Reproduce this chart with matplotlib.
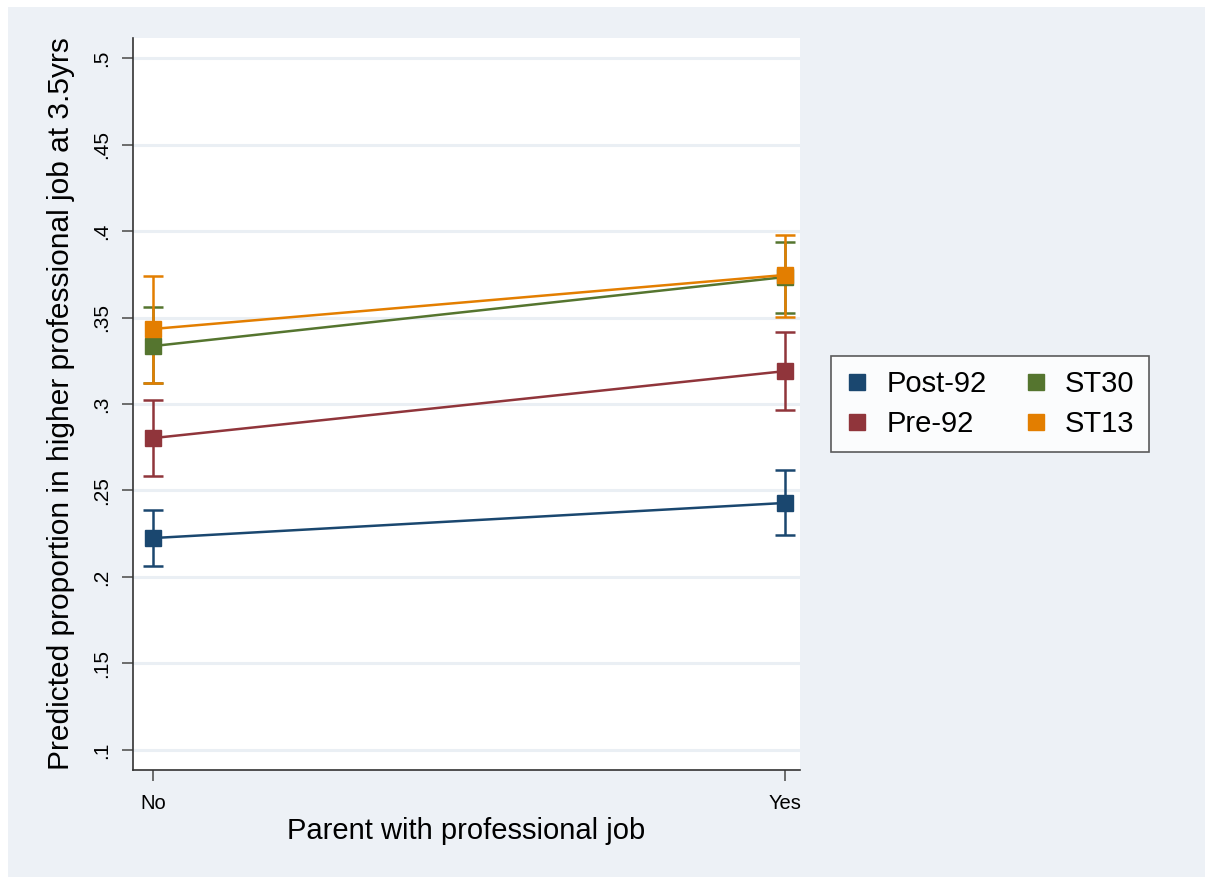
import matplotlib
matplotlib.use("Agg")
import matplotlib.pyplot as plt
from matplotlib.patches import Rectangle
from matplotlib.lines import Line2D

# Predicted proportions with 95% confidence limits, by parental job status
x_labels = ["No", "Yes"]
series_names = ["Post-92", "Pre-92", "ST30", "ST13"]
colors = ["#1A476F", "#90353B", "#55752F", "#E37E00"]

post92 = [0.2225, 0.2428]
post92_lo = [0.2064, 0.2243]
post92_hi = [0.2385, 0.2618]

pre92 = [0.2803, 0.3190]
pre92_lo = [0.2584, 0.2965]
pre92_hi = [0.3023, 0.3416]

st30 = [0.3335, 0.3734]
st30_lo = [0.3121, 0.3526]
st30_hi = [0.3560, 0.3936]

st13 = [0.3434, 0.3746]
st13_lo = [0.3120, 0.3503]
st13_hi = [0.3740, 0.3977]

y_ticks = [0.1, 0.15, 0.2, 0.25, 0.3, 0.35, 0.4, 0.45, 0.5]
y_ticklabels = [".1", ".15", ".2", ".25", ".3", ".35", ".4", ".45", ".5"]

plt.rcParams["font.family"] = ["Liberation Sans", "DejaVu Sans"]

W, H = 1205, 877
fig = plt.figure(figsize=(W / 100, H / 100), dpi=100, facecolor="white")
bg = "#EDF1F6"
fig.patches.append(Rectangle((8 / W, 0), 1 - 8 / W, 1 - 7 / H,
                             transform=fig.transFigure, facecolor=bg,
                             edgecolor="none", zorder=-10))

ax = fig.add_axes([133 / W, 1 - 770 / H, (800 - 133) / W, (770 - 38) / H])
ax.set_facecolor("white")

xs = [0, 1]
groups = [
    (post92, post92_lo, post92_hi),
    (pre92, pre92_lo, pre92_hi),
    (st30, st30_lo, st30_hi),
    (st13, st13_lo, st13_hi),
]
for (vals, lo, hi), c, name in zip(groups, colors, series_names):
    yerr = [[v - l for v, l in zip(vals, lo)], [h - v for v, h in zip(vals, hi)]]
    ax.errorbar(xs, vals, yerr=yerr, fmt="none", ecolor=c, elinewidth=1.8,
                capsize=7, capthick=1.8, zorder=3)
    ax.plot(xs, vals, color=c, lw=1.8, marker="s", markersize=11.5,
            markerfacecolor=c, markeredgecolor=c, label=name, zorder=4)

ax.set_xlim(-0.032, 1.024)
ax.set_ylim(0.0884, 0.5116)
ax.set_yticks(y_ticks)
ax.set_yticklabels(y_ticklabels, rotation=90, va="center", fontsize=15)
ax.set_xticks(xs)
ax.set_xticklabels(x_labels, fontsize=14.5)
ax.grid(axis="y", color="#EAEFF4", lw=2.2, zorder=0)
ax.set_axisbelow(True)

for s in ["top", "right"]:
    ax.spines[s].set_visible(False)
for s in ["left", "bottom"]:
    ax.spines[s].set_color("#333333")
    ax.spines[s].set_linewidth(1.2)
ax.tick_params(axis="both", length=8, width=1.2, color="#555555", pad=8)
ax.tick_params(axis="x", pad=9)

ax.set_xlabel("Parent with professional job", fontsize=21, labelpad=3)
ax.set_ylabel("Predicted proportion in higher professional job at 3.5yrs",
              fontsize=21.5, labelpad=12)

handles = [Line2D([0], [0], marker="s", color="none", markerfacecolor=c,
                  markeredgecolor=c, markersize=11) for c in colors]
leg = fig.legend(handles, series_names, ncol=2, loc="center",
                 bbox_to_anchor=(990 / W, 1 - 404 / H), fontsize=21,
                 frameon=True, fancybox=False, edgecolor="#333333",
                 handlelength=0.8, handletextpad=0.6, columnspacing=1.3,
                 borderpad=0.5, labelspacing=0.4)
leg.get_frame().set_linewidth(1.2)

fig.savefig("out.png", dpi=100, facecolor=fig.get_facecolor())
